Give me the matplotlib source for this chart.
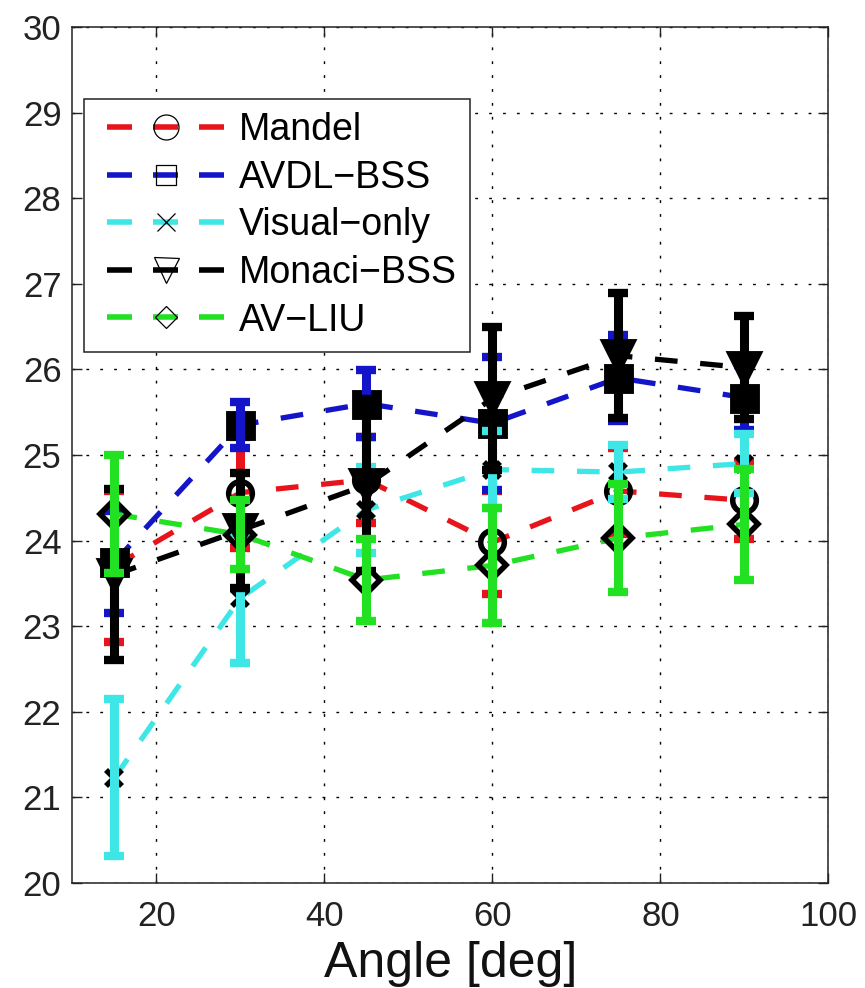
import matplotlib
matplotlib.use("Agg")
import matplotlib.pyplot as plt
from matplotlib.lines import Line2D

plt.rcParams['font.family'] = ['Liberation Sans', 'DejaVu Sans']

angles = [15, 30, 45, 60, 75, 90]

series_names = ["Mandel", "AVDL\u2212BSS", "Visual\u2212only", "Monaci\u2212BSS", "AV\u2212LIU"]

mandel_mean = [23.70, 24.56, 24.71, 23.98, 24.58, 24.47]
mandel_err = [0.88, 0.65, 0.50, 0.60, 0.50, 0.45]

avdl_mean = [23.75, 25.35, 25.60, 25.37, 25.90, 25.67]
avdl_err = [0.60, 0.27, 0.39, 0.78, 0.50, 0.38]

visual_mean = [21.23, 23.33, 24.36, 24.83, 24.80, 24.90]
visual_err = [0.92, 0.76, 0.50, 0.45, 0.32, 0.35]

monaci_mean = [23.60, 24.12, 24.65, 25.66, 26.16, 26.02]
monaci_err = [1.00, 0.67, 1.00, 0.84, 0.73, 0.60]

avliu_mean = [24.31, 24.07, 23.54, 23.71, 24.03, 24.19]
avliu_err = [0.69, 0.40, 0.48, 0.67, 0.63, 0.65]

xticks = [20, 40, 60, 80, 100]
yticks = list(range(20, 31))

means = [mandel_mean, avdl_mean, visual_mean, monaci_mean, avliu_mean]
errs = [mandel_err, avdl_err, visual_err, monaci_err, avliu_err]
colors = ['#e8141c', '#1414c8', '#3fe6e6', '#000000', '#22e022']

# per-series marker styles: (marker, size, face colour, edge width)
plot_markers = [('o', 17, 'none', 4.0),
                ('s', 18, 'k', 3.5),
                ('x', 12, 'k', 4.0),
                ('v', 22, 'k', 3.5),
                ('D', 14, 'none', 4.0)]
legend_markers = [('o', 18), ('s', 15), ('x', 13), ('v', 18), ('D', 11.5)]

fig = plt.figure(figsize=(8.65, 9.88), dpi=100)
ax = fig.add_axes([0.0838, 0.1063, 0.874, 0.8664])

for i, (m, e, c) in enumerate(zip(means, errs, colors)):
    mk, ms, mfc, mew = plot_markers[i]
    z = 3 + i
    ax.plot(angles, m, color=c, lw=3.8, linestyle=(0, (4.3, 4.3)),
            zorder=z - 0.2, solid_capstyle='butt')
    ax.plot(angles, m, linestyle='none', marker=mk, ms=ms, mfc=mfc,
            mec='k', mew=mew, zorder=z - 0.1)
    ax.errorbar(angles, m, yerr=e, fmt='none', ecolor=c, elinewidth=6.5,
                capsize=7.5, capthick=6, zorder=z)

ax.set_xlim(10, 100)
ax.set_ylim(20, 30)
ax.set_xticks(xticks)
ax.set_yticks(yticks)
ax.tick_params(axis='both', direction='in', length=7, width=1,
               top=True, right=True, labelsize=25, colors='#222222')
ax.tick_params(axis='x', pad=12)
ax.tick_params(axis='y', pad=8)
for s in ax.spines.values():
    s.set_linewidth(1.1)
    s.set_color('#222222')

ax.grid(True, color='k', lw=1.0, linestyle=(0, (2, 8)))
ax.set_axisbelow(True)

handles = []
for (mk, ms), c in zip(legend_markers, colors):
    handles.append(Line2D([], [], color=c, lw=4,
                          linestyle=(6.48, (4.5, 3.78)),
                          marker=mk, ms=ms, mfc='none', mec='k', mew=0.9))

leg = ax.legend(handles, series_names, loc='upper left',
                bbox_to_anchor=(0.0157, 0.9159), borderaxespad=0,
                fontsize=27, handlelength=3.65, handletextpad=0.12,
                labelspacing=0.31, borderpad=0.35, fancybox=False,
                framealpha=1, edgecolor='#222222')
leg.get_frame().set_linewidth(1.1)
leg.set_zorder(20)

fig.text(451 / 865, 977 / 988, "Angle [deg]", fontsize=36, ha='center',
         va='baseline', color='#111111', transform=fig.transFigure)
# place baseline near the bottom edge, in figure pixels
fig.texts[-1].set_position((451 / 865, 1 - 977 / 988))

fig.savefig("out.png", dpi=100)
